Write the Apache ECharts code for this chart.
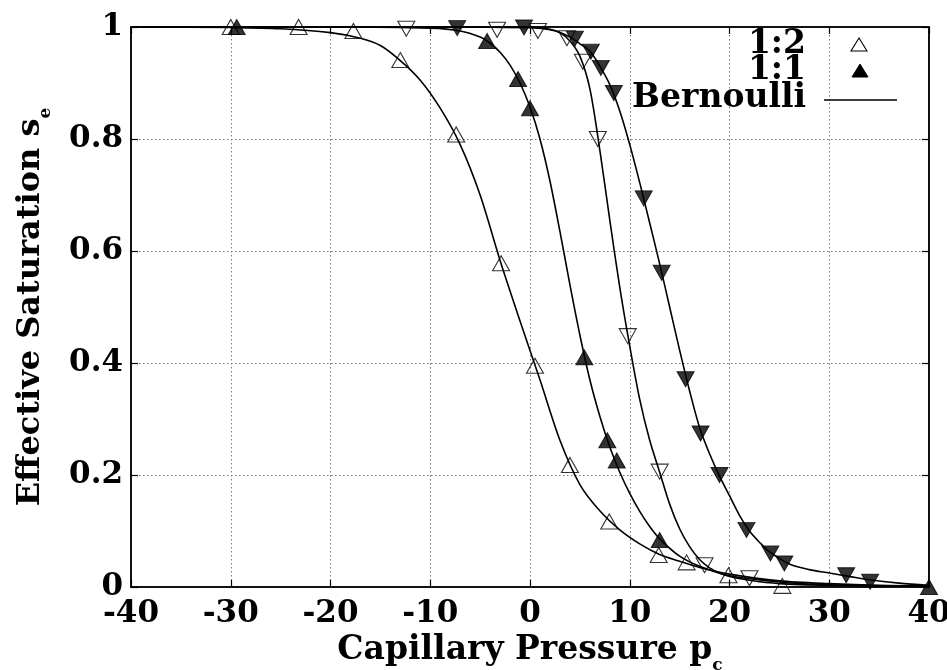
<!DOCTYPE html>
<html><head><meta charset="utf-8">
<script src="https://cdn.jsdelivr.net/npm/echarts@6/dist/echarts.min.js"></script>
<style>html,body{margin:0;padding:0;background:#fff}#c{width:947px;height:670px}</style>
</head><body><div id="c"></div>
<script>
// ---- data ----
const xRange = [-40, 40];
const yRange = [0, 1];
const legendNames = ['1:2', '1:1', 'Bernoulli'];

// measured points
const ptsOpenUp = [[-30,1],[-23.2,1],[-17.7,0.993],[-13,0.941],[-7.4,0.808],[-2.9,0.578],[0.5,0.395],[4,0.218],[7.95,0.117],[12.9,0.057],[15.7,0.044],[19.9,0.021],[25.3,0.002]];
const ptsFilledUp = [[-29.4,1],[-4.3,0.975],[-1.2,0.907],[0,0.855],[5.45,0.41],[7.75,0.262],[8.7,0.226],[13,0.084],[40,0]];
const ptsOpenDown = [[-12.4,0.997],[-3.3,0.995],[0.8,0.993],[3.7,0.98],[5.3,0.938],[6.8,0.8],[9.8,0.448],[13,0.206],[17.5,0.039],[22,0.0155]];
const ptsFilledDown = [[-7.3,0.998],[-0.6,0.999],[4.5,0.979],[6.1,0.956],[7.1,0.927],[8.4,0.882],[11.4,0.694],[13.2,0.561],[15.6,0.371],[17.1,0.274],[19,0.2],[21.7,0.102],[24.1,0.06],[25.5,0.042],[31.7,0.021],[34.1,0.0095]];

// Bernoulli curves
const curveA = [[-40,1],[-30,0.999],[-25,0.997],[-20,0.99],[-17,0.98],[-15,0.967],[-13,0.94],[-11,0.905],[-9,0.855],[-7,0.79],[-5,0.7],[-3,0.583],[-1,0.475],[1,0.37],[3,0.262],[5,0.183],[7,0.136],[9,0.102],[11,0.077],[13,0.058],[15,0.046],[17,0.035],[20,0.023],[25,0.011],[30,0.006],[35,0.003],[40,0.002]];
const curveB = [[-40,1],[-20,1],[-10,0.998],[-7,0.993],[-5,0.982],[-4,0.971],[-3,0.955],[-2,0.932],[-1,0.9],[0,0.857],[1,0.8],[2,0.725],[3,0.635],[4,0.54],[5,0.45],[6,0.37],[7,0.305],[8,0.25],[9,0.205],[10,0.167],[11,0.135],[12,0.108],[13,0.086],[15,0.055],[17,0.037],[20,0.02],[25,0.009],[30,0.004],[40,0.001]];
const curveC = [[-40,1],[-10,1],[0,0.999],[2,0.996],[3,0.99],[4,0.975],[5,0.948],[6,0.89],[7,0.78],[8,0.655],[9,0.535],[10,0.43],[11,0.335],[12,0.262],[13,0.205],[14,0.148],[15,0.104],[16,0.072],[17,0.049],[18,0.034],[19,0.025],[20,0.019],[22,0.012],[25,0.006],[30,0.003],[40,0.001]];
const curveD = [[-40,1],[-10,1],[0,0.999],[2,0.995],[3,0.99],[4,0.982],[5,0.97],[6,0.957],[7,0.93],[8,0.897],[9,0.85],[10,0.79],[11,0.722],[12,0.65],[13,0.577],[14,0.5],[15,0.423],[16,0.35],[17,0.285],[18,0.238],[19,0.198],[20,0.163],[21,0.128],[22,0.1],[23,0.08],[24,0.063],[26,0.041],[28,0.031],[30,0.025],[32,0.019],[34,0.013],[37,0.007],[40,0.003]];

// ---- chart ----
const FONT = '"DejaVu Serif", "Liberation Serif", serif';
const chart = echarts.init(document.getElementById('c'), null, {renderer: 'canvas'});

const tickLabel = {fontFamily: FONT, fontWeight: 'bold', fontSize: 31, color: '#000'};
const openStyle = {color: 'rgba(0,0,0,0)', borderColor: '#000', borderWidth: 1.1};
const fillStyle = {color: '#000', borderColor: '#000', borderWidth: 1};

function curve(d) {
  return {type: 'line', data: d, showSymbol: false, symbol: 'none', smooth: 0.3,
    lineStyle: {color: '#000', width: 1.6}, z: 3, silent: true, xAxisIndex: 0, yAxisIndex: 0};
}
function pts(name, d, style, rotate) {
  return {name: name, type: 'scatter', data: d, symbol: 'triangle', symbolSize: [17, 15], symbolRotate: rotate,
    itemStyle: style, z: 4, xAxisIndex: 0, yAxisIndex: 0};
}

function titleRich(size) {
  return {
    a: {fontFamily: FONT, fontWeight: 'bold', fontSize: size, color: '#000', lineHeight: size + 7, verticalAlign: 'top'},
    s: {fontFamily: FONT, fontWeight: 'bold', fontSize: 17, color: '#000', lineHeight: 17, verticalAlign: 'bottom'}
  };
}

const axisLineStyle = {show: true, onZero: false, lineStyle: {color: '#000', width: 1.5}};
const tickStyle = {show: true, inside: true, length: 7, lineStyle: {color: '#000', width: 1.2}};
const gridLine = {show: true, lineStyle: {color: '#777', type: [1.5, 2.5], width: 1}};

chart.setOption({
  animation: false,
  backgroundColor: '#fff',
  grid: {left: 131, top: 27, width: 798, height: 560, containLabel: false, outerBoundsMode: 'none',
    show: true, borderColor: '#000', borderWidth: 1.5, backgroundColor: 'transparent'},
  xAxis: [
    {
      type: 'value', min: xRange[0], max: xRange[1], interval: 10, position: 'bottom',
      name: '{a|Capillary Pressure p}{s|c}', nameLocation: 'middle', nameGap: 33,
      nameTextStyle: {rich: titleRich(33)},
      axisLine: axisLineStyle, axisTick: tickStyle,
      axisLabel: Object.assign({margin: 11}, tickLabel),
      splitLine: gridLine
    },
    {
      type: 'value', min: xRange[0], max: xRange[1], interval: 10, position: 'top',
      axisLine: axisLineStyle, axisTick: tickStyle,
      axisLabel: {show: false}, splitLine: {show: false}
    }
  ],
  yAxis: [
    {
      type: 'value', min: yRange[0], max: yRange[1], interval: 0.2, position: 'left',
      name: '{a|Effective Saturation s}{s|e}', nameLocation: 'middle', nameGap: 77, nameRotate: 90,
      nameTextStyle: {rich: titleRich(32)},
      axisLine: axisLineStyle, axisTick: tickStyle,
      axisLabel: Object.assign({margin: 8}, tickLabel),
      splitLine: gridLine
    },
    {
      type: 'value', min: yRange[0], max: yRange[1], interval: 0.2, position: 'right',
      axisLine: axisLineStyle, axisTick: tickStyle,
      axisLabel: {show: false}, splitLine: {show: false}
    }
  ],
  series: [
    curve(curveA), curve(curveB), curve(curveC), curve(curveD),
    pts(legendNames[0], ptsOpenUp, openStyle, 0),
    pts(legendNames[1], ptsFilledUp, fillStyle, 0),
    pts('open down', ptsOpenDown, openStyle, 180),
    pts('filled down', ptsFilledDown, fillStyle, 180)
  ],
  graphic: [
    {type: 'text', x: 806, y: 44, z: 10, style: {text: legendNames[0], font: 'bold 33px ' + FONT, fill: '#000', align: 'right', verticalAlign: 'middle', textAlign: 'right', textVerticalAlign: 'middle'}},
    {type: 'text', x: 806, y: 70, z: 10, style: {text: legendNames[1], font: 'bold 33px ' + FONT, fill: '#000', align: 'right', verticalAlign: 'middle', textAlign: 'right', textVerticalAlign: 'middle'}},
    {type: 'text', x: 806, y: 98, z: 10, style: {text: legendNames[2], font: 'bold 33px ' + FONT, fill: '#000', align: 'right', verticalAlign: 'middle', textAlign: 'right', textVerticalAlign: 'middle'}},
    {type: 'polygon', z: 10, shape: {points: [[859, 38], [867, 51], [851, 51]]}, style: {fill: 'rgba(0,0,0,0)', stroke: '#000', lineWidth: 1.1}},
    {type: 'polygon', z: 10, shape: {points: [[860, 64], [868, 77], [852, 77]]}, style: {fill: '#000', stroke: '#000', lineWidth: 1}},
    {type: 'line', z: 10, shape: {x1: 824, y1: 100, x2: 897, y2: 100}, style: {stroke: '#000', lineWidth: 1.6}}
  ]
});
</script></body></html>
